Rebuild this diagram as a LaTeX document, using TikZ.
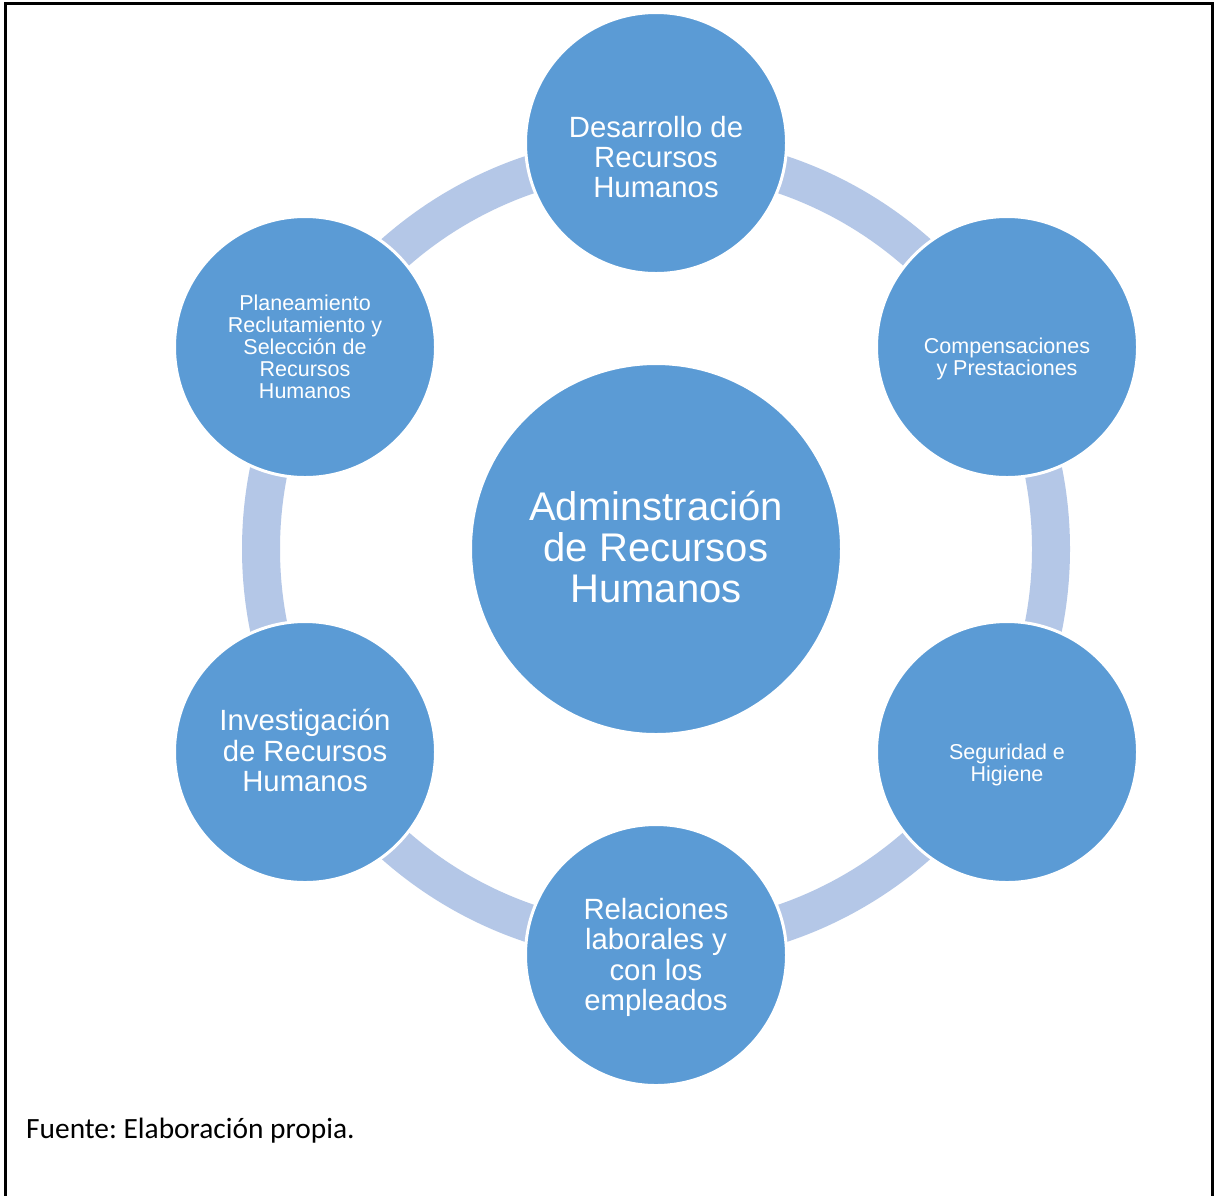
\documentclass[tikz,border=0pt]{standalone}
\usepackage{fontspec}
\setmainfont{Liberation Sans}
\newfontfamily\sourcefont{Carlito}
\definecolor{nodeblue}{HTML}{5B9BD5}
\definecolor{ringblue}{HTML}{B4C7E7}
\frenchspacing
\begin{document}
\begin{tikzpicture}[x=1pt,y=-1pt,
  bubble/.style={circle, fill=nodeblue, draw=white, line width=3pt,
                 inner sep=0pt, minimum size=261pt},
  hub/.style={bubble, minimum size=371pt},
  lbl/.style={text=white, align=center, inner sep=0pt},
  bigtxt/.style={lbl, font=\fontsize{40}{41}\selectfont},
  midtxt/.style={lbl, font=\fontsize{29.3}{30.3}\selectfont},
  smalltxt/.style={lbl, font=\fontsize{21.5}{22}\selectfont}]
\useasboundingbox (0,0) rectangle (1214,1195);
\fill[white] (0,0) rectangle (1214,1195);
% open frame around the figure
\draw[line width=2.5pt] (5.5,1196) -- (5.5,3.5) -- (1212.5,3.5) -- (1212.5,1196);

% cycle ring behind the bubbles
\draw[ringblue, line width=38pt] (656,549) circle[radius=395];

% bubbles
\node[hub]    (hub) at (656,549) {};
\node[bubble] (top) at (656,143) {};
\node[bubble] (ur)  at (1007,347) {};
\node[bubble] (lr)  at (1007,752) {};
\node[bubble] (bot) at (656,955) {};
\node[bubble] (ll)  at (305,752) {};
\node[bubble] (ul)  at (305,347) {};

% labels
\node[bigtxt]   (thub) at (656,547)   {Adminstración\\de Recursos\\Humanos};
\node[midtxt]   (ttop) at (656,157)   {Desarrollo de\\Recursos\\Humanos};
\node[smalltxt] (tur)  at (1007,359)  {Compensaciones\\y Prestaciones};
\node[smalltxt] (tlr)  at (1007,764.5){Seguridad e\\Higiene};
\node[midtxt]   (tbot) at (656,957.5) {Relaciones\\laborales y\\con los\\empleados};
\node[midtxt]   (tll)  at (305,750.5) {Investigación\\de Recursos\\Humanos};
\node[smalltxt] (tul)  at (305,346.5) {Planeamiento\\Reclutamiento y\\Selección de\\Recursos\\Humanos};

% source line
\node[anchor=base west, inner sep=0pt, font=\sourcefont\fontsize{29.4}{32}\selectfont]
  (src) at (26,1138) {Fuente: Elaboración propia.};
\end{tikzpicture}
\end{document}
